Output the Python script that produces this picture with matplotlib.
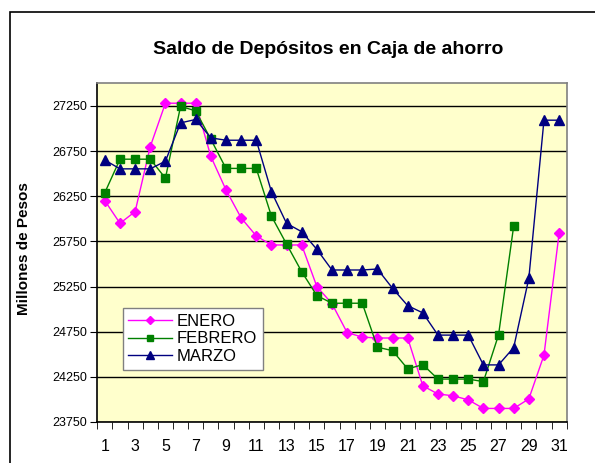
import numpy as np
import matplotlib.pyplot as plt
from matplotlib.patches import Rectangle

plt.rcParams['font.family'] = ['Liberation Sans', 'DejaVu Sans']

dias = np.arange(1, 32)

enero = [26200, 25950, 26080, 26800, 27280, 27280, 27280, 26690, 26320, 26010,
         25810, 25710, 25710, 25710, 25250, 25060, 24740, 24690, 24680, 24680,
         24680, 24150, 24060, 24040, 23995, 23900, 23900, 23900, 24005, 24490,
         25840]
febrero = [26290, 26660, 26660, 26660, 26450, 27245, 27195, 26880, 26558, 26558,
           26558, 26030, 25720, 25414, 25150, 25065, 25065, 25065, 24578, 24540,
           24338, 24385, 24225, 24225, 24225, 24197, 24714, 25920]
marzo = [26650, 26553, 26553, 26553, 26638, 27062, 27100, 26896, 26870, 26870,
         26870, 26300, 25949, 25857, 25662, 25433, 25433, 25433, 25444, 25230,
         25038, 24958, 24712, 24712, 24712, 24382, 24382, 24574, 25341, 27092,
         27092]

y_ticks = [23750, 24250, 24750, 25250, 25750, 26250, 26750, 27250]
x_labels = [str(d) for d in range(1, 32, 2)]

fig = plt.figure(figsize=(5.95, 4.63), dpi=100)
ax = fig.add_axes([0.1635, 0.0886, 0.7889, 0.7314])

# marco del grafico
fig.patches.append(Rectangle((9.5 / 595, -0.1), 1.2, 1 - 11.5 / 463 + 0.1,
                             transform=fig.transFigure, fill=False,
                             edgecolor='black', linewidth=1.2))

ax.set_facecolor('#FFFFCC')
ax.plot(dias, enero, color='#FF00FF', marker='D', markersize=5, linewidth=1, label='ENERO')
ax.plot(dias[:len(febrero)], febrero, color='#008000', marker='s', markersize=5.5, linewidth=1, label='FEBRERO')
ax.plot(dias, marzo, color='#000080', marker='^', markersize=7, linewidth=1, label='MARZO')

ax.set_xlim(0.5, 31.5)
ax.set_ylim(23750, 27500)
ax.set_yticks(y_ticks)
ax.set_yticklabels([str(v) for v in y_ticks], fontsize=9)
ax.set_xticks(range(1, 32, 2))
ax.set_xticklabels(x_labels, fontsize=11.5)
ax.set_xticks(np.arange(0.5, 32, 1), minor=True)
ax.tick_params(axis='x', which='major', length=0, pad=12)
ax.tick_params(axis='x', which='minor', length=5, direction='out', color='black')
ax.tick_params(axis='y', length=5, direction='out', color='black', pad=2)
ax.grid(axis='y', color='black', linewidth=1)
ax.set_axisbelow(True)
for s in ax.spines.values():
    s.set_color('#808080')
    s.set_linewidth(1.2)
ax.spines['bottom'].set_color('black')
ax.spines['left'].set_color('black')

fig.text(24.5 / 595, 1 - 249 / 463, 'Millones de Pesos', rotation=90, ha='center', va='center',
         fontsize=11, fontweight='bold')
fig.text(0.551, 0.894, 'Saldo de Depósitos en Caja de ahorro', ha='center', va='center',
         fontsize=14, fontweight='bold')

leg = ax.legend(loc='lower left', bbox_to_anchor=(0.054, 0.153), borderaxespad=0,
                fontsize=12, frameon=True, fancybox=False, borderpad=0.35,
                labelspacing=0.17, handlelength=2.6, handletextpad=0.3, markerscale=0.75)
leg.get_frame().set_edgecolor('#808080')
leg.get_frame().set_facecolor('white')
leg.get_frame().set_alpha(1)

fig.savefig('out.png', dpi=100)
